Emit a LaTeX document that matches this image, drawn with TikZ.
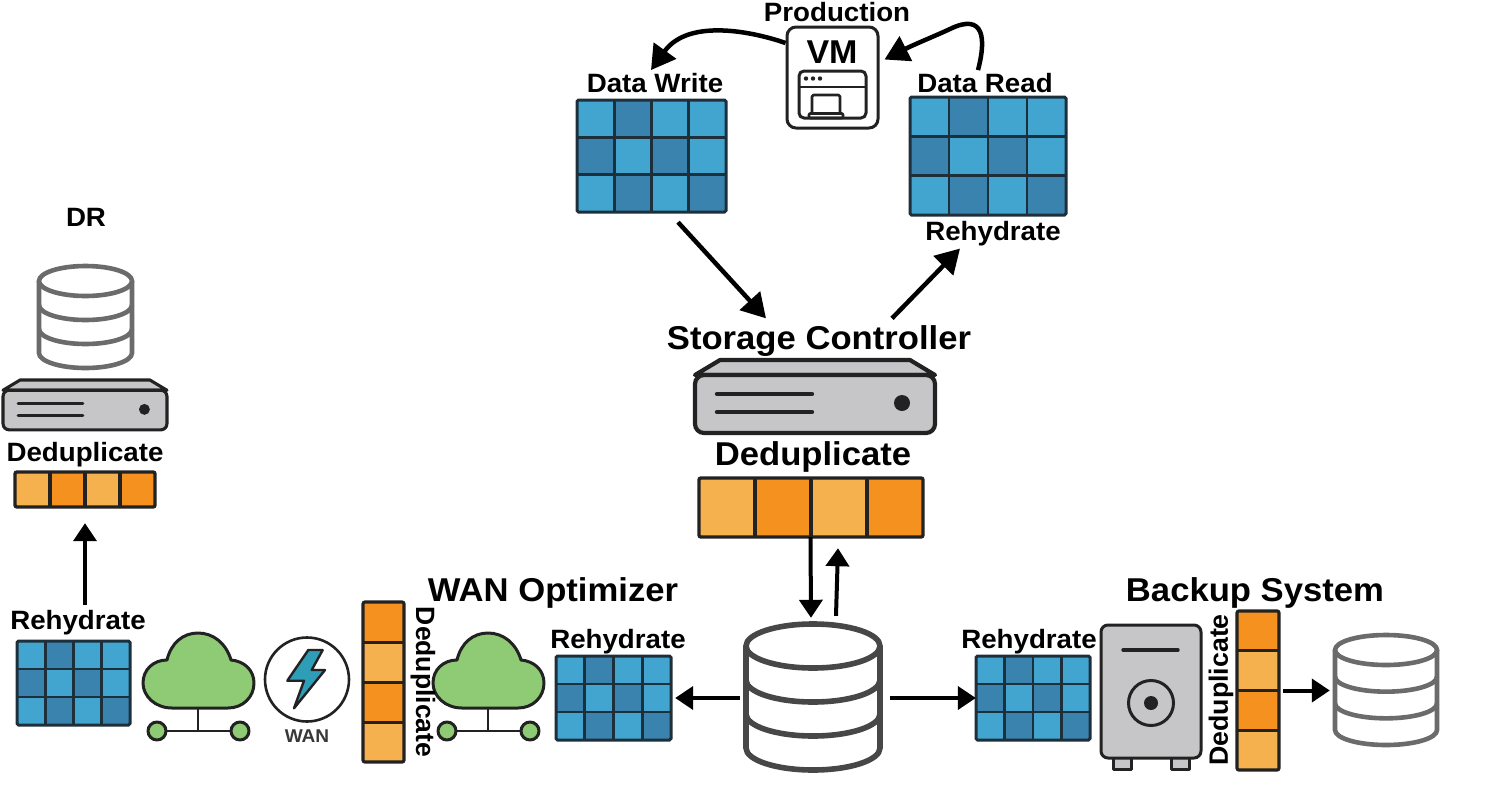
\documentclass[tikz,border=0pt]{standalone}
\usepackage{fontspec}
\setmainfont{Liberation Sans}
\usetikzlibrary{arrows.meta}
\definecolor{cellL}{HTML}{42A5CF}
\definecolor{cellD}{HTML}{3A83AE}
\definecolor{gridline}{HTML}{1E2F3C}
\definecolor{orL}{HTML}{F6B14F}
\definecolor{orD}{HTML}{F5921F}
\definecolor{steel}{HTML}{C6C6C8}
\definecolor{ink}{HTML}{222222}
\definecolor{leaf}{HTML}{8FCA74}
\definecolor{bolt}{HTML}{2E9DB8}
\tikzset{
  arr/.style={line width=4.5pt,-{Triangle[length=24pt,width=27pt]},black},
  arrs/.style={line width=4pt,-{Triangle[length=18pt,width=23pt]},black},
  smalllab/.style={inner sep=0pt,font=\fontsize{26.5}{26.5}\selectfont\bfseries},
  largelab/.style={inner sep=0pt,font=\fontsize{33}{33}\selectfont\bfseries},
  outlined/.style={draw=ink,line width=3pt,line join=round},
  hold/.style={inner sep=0pt,draw=none},
}
% name, x0, y0, width, height
\newcommand\datagrid[5]{%
  \begin{scope}[shift={(#2,#3)},x=#4pt/4,y=-#5pt/3]
    \node[hold,minimum width=#4pt,minimum height=#5pt] (#1) at (2,1.5) {};
    \foreach \c/\r/\k in {0/0/cellL,1/0/cellD,2/0/cellL,3/0/cellL,
                          0/1/cellD,1/1/cellL,2/1/cellD,3/1/cellL,
                          0/2/cellL,1/2/cellD,2/2/cellL,3/2/cellD}
      \path[fill=\k] (\c,\r) rectangle (\c+1,\r+1);
    \draw[gridline,line width=2.8pt] (1,0)--(1,3) (2,0)--(2,3) (3,0)--(3,3) (0,1)--(4,1) (0,2)--(4,2);
    \draw[gridline,line width=3pt,rounded corners=1.5pt] (0,0) rectangle (4,3);
  \end{scope}}
\newcommand\orangeH[5]{%
  \begin{scope}[shift={(#2,#3)},x=#4pt/4,y=-#5pt]
    \node[hold,minimum width=#4pt,minimum height=#5pt] (#1) at (2,.5) {};
    \foreach \c/\k in {0/orL,1/orD,2/orL,3/orD} \path[fill=\k] (\c,0) rectangle (\c+1,1);
    \draw[ink,line width=3.2pt] (1,0)--(1,1) (2,0)--(2,1) (3,0)--(3,1);
    \draw[ink,line width=3.4pt,rounded corners=2pt] (0,0) rectangle (4,1);
  \end{scope}}
\newcommand\orangeV[5]{%
  \begin{scope}[shift={(#2,#3)},x=#4pt,y=-#5pt/4]
    \node[hold,minimum width=#4pt,minimum height=#5pt] (#1) at (.5,2) {};
    \foreach \r/\k in {0/orD,1/orL,2/orD,3/orL} \path[fill=\k] (0,\r) rectangle (1,\r+1);
    \draw[ink,line width=3pt] (0,1)--(1,1) (0,2)--(1,2) (0,3)--(1,3);
    \draw[ink,line width=3.2pt,rounded corners=2pt] (0,0) rectangle (1,4);
  \end{scope}}
% name, cx, top, width, height, ry, colour, line width
\newcommand\dbstack[8]{%
  \begin{scope}[shift={(#2,#3)}]
    \pgfmathsetmacro\hw{#4/2}
    \pgfmathsetmacro\stp{(#5-2*#6)/3}
    \node[hold,minimum width=#4pt,minimum height=#5pt] (#1) at (0,#5/2) {};
    \begin{scope}[draw=#7,line width=#8pt]
      \draw[fill=white] (-\hw,#6) -- (-\hw,#5-#6) arc[x radius=\hw,y radius=-#6,start angle=180,end angle=360] -- (\hw,#6);
      \draw[fill=white] (0,#6) ellipse[x radius=\hw,y radius=#6];
      \draw (-\hw,#6+\stp) arc[x radius=\hw,y radius=-#6,start angle=180,end angle=360];
      \draw (-\hw,#6+2*\stp) arc[x radius=\hw,y radius=-#6,start angle=180,end angle=360];
    \end{scope}
  \end{scope}}
% name, cx, top, scale
\newcommand\serverbox[4]{%
  \begin{scope}[shift={(#2,#3)},x=#4pt,y=-#4pt]
    \node[hold,minimum width=240*#4pt,minimum height=73*#4pt] (#1) at (0,36.5) {};
    \draw[draw=ink,line width=3.4*#4pt+.8pt,fill=steel,line join=round] (-95,0) -- (95,0) -- (120,15) -- (-120,15) -- cycle;
    \draw[draw=ink,line width=3.4*#4pt+.8pt,fill=steel,rounded corners=9*#4pt] (-120,15) rectangle (120,73);
    \draw[ink,line width=4.4*#4pt,line cap=round] (-98,34)--(-3,34) (-98,52)--(-3,52);
    \fill[ink] (87,43) circle[radius=8];
  \end{scope}}
\newcommand\cloudicon[2]{%
  \begin{scope}[shift={(#2,0)}]
    \node[hold,minimum width=111pt,minimum height=75pt] (#1) at (198.5,670.5) {};
    \draw[ink,line width=2.6pt] (198,708) -- (198,731) (157,731) -- (240,731);
    \draw[outlined,fill=leaf] (172,708) .. controls (155,708) and (143,696) .. (143,683)
      .. controls (143,670) and (153,660) .. (167,660)
      .. controls (171,643) and (183,633) .. (198,633)
      .. controls (213,633) and (226,643) .. (231,660)
      .. controls (244,661) and (254,670) .. (254,683)
      .. controls (254,697) and (243,708) .. (228,708) -- cycle;
    \draw[outlined,fill=leaf] (157,731) circle[radius=9] (240,731) circle[radius=9];
  \end{scope}}
\newcommand\smtxt[1]{\scalebox{1.045}[1]{#1}}
\newcommand\lgtxt[1]{\scalebox{1.05}[1]{#1}}
\begin{document}
\begin{tikzpicture}[x=1pt,y=-1pt]
\useasboundingbox (0,0) rectangle (1500,785);
\path[fill=white] (0,0) rectangle (1500,785);

% data grids
\datagrid{dw}{577}{100}{149}{112}
\datagrid{dr}{910}{97}{156}{118}
\datagrid{gl}{17}{641}{113}{84}
\datagrid{gw}{556}{656}{115}{84}
\datagrid{gb}{976}{656}{114}{84}
% deduplicate bars
\orangeH{bc}{699}{478}{224}{59}
\orangeH{bl}{15}{472}{140}{35}
\orangeV{bw}{363}{602}{41}{160}
\orangeV{bb}{1237}{611}{42}{159}
% databases
\dbstack{dbl}{85.5}{266}{93}{102}{15}{black!58}{4.6}
\dbstack{dbc}{813}{624}{134}{146}{22}{black!72}{5.6}
\dbstack{dbb}{1386}{635}{102}{110}{15}{black!58}{4.6}
% servers
\serverbox{sc}{815}{360}{1}
\serverbox{sl}{85}{380}{.683}

% VM
\node[hold,draw=ink,line width=3pt,rounded corners=9pt,minimum width=91pt,minimum height=101pt] (vm) at (832.5,77.5) {};
\node[smalllab,font=\fontsize{33}{33}\selectfont\bfseries] (vmt) at (832,52) {\scalebox{1.03}[1]{VM}};
\draw[outlined,rounded corners=5pt] (799,71) rectangle (866,118);
\draw[ink,line width=2.6pt] (799,87) -- (866,87);
\fill[ink] (806,78.5) circle[radius=2.2] (813,78.5) circle[radius=2.2] (820,78.5) circle[radius=2.2];
\draw[outlined,line width=2.6pt,rounded corners=1.5pt] (812,114) -- (812,95) -- (840,95) -- (840,114);
\draw[outlined,line width=2.6pt,rounded corners=1pt] (809,113.5) rectangle (843,118);

% clouds
\cloudicon{cl}{0}
\cloudicon{cw}{290}

% WAN
\node[hold,draw=ink,line width=2.6pt,circle,minimum size=84pt] (wanc) at (307,679.5) {};
\draw[draw=ink,line width=2.4pt,fill=bolt,line join=round] (308.3,650) -- (322.7,650) -- (311.7,670) -- (325,670) -- (294,708.3) -- (304,680.7) -- (287.3,680.7) -- cycle;
\node[inner sep=0pt,text=black!78,font=\fontsize{18.5}{18.5}\selectfont\bfseries] (wanl) at (307,736) {\scalebox{1.03}[1]{WAN}};

% backup safe
\draw[outlined,fill=steel] (1113,757) rectangle (1131,769.5);
\draw[outlined,fill=steel] (1171,757) rectangle (1189,769.5);
\node[hold,draw=ink,line width=3pt,fill=steel,rounded corners=7pt,minimum width=100pt,minimum height=133pt] (safe) at (1151,691.5) {};
\draw[ink,line width=3.4pt,line cap=round] (1123,650) -- (1178,650);
\draw[ink,line width=3pt] (1151,703) circle[radius=22.5];
\fill[ink] (1151,703) circle[radius=7];

% labels
\node[smalllab] (lprod) at (837,12) {\smtxt{Production}};
\node[smalllab] (lw) at (655,83) {\smtxt{Data Write}};
\node[smalllab] (lr) at (985,83) {\smtxt{Data Read}};
\node[smalllab] (lrh) at (993,234) {\smtxt{Rehydrate}};
\node[smalllab] (ldr) at (86,217) {\smtxt{DR}};
\node[smalllab] (lded) at (85,455) {\smtxt{Deduplicate}};
\node[smalllab] (lrl) at (78,623) {\smtxt{Rehydrate}};
\node[smalllab] (lrw) at (618,642) {\smtxt{Rehydrate}};
\node[smalllab] (lrb) at (1029,642) {\smtxt{Rehydrate}};
\node[smalllab,rotate=-90] (ldw) at (423,682) {Deduplicate};
\node[smalllab,rotate=90] (ldb) at (1221,690) {\scalebox{1.01}[1]{Deduplicate}};
\node[largelab] (lsc) at (819,341) {\lgtxt{Storage Controller}};
\node[largelab] (ldc) at (813,457) {\lgtxt{Deduplicate}};
\node[largelab] (lwan) at (553,593) {\lgtxt{WAN Optimizer}};
\node[largelab] (lbak) at (1255,593) {\lgtxt{Backup System}};

% connectors
\draw[arr] ([yshift=34.5pt]vm.west) .. controls (760,34) and (690,16) .. ([xshift=-4pt,yshift=3pt]lw.north);
\draw[arr] ([xshift=-7pt,yshift=3pt]lr.north) .. controls (986,40) and (985,12) .. (950,29) .. controls (935,36) and (915,44) .. ([xshift=5pt,yshift=18pt]vm.east);
\draw[arr] ([xshift=26.5pt,yshift=-10pt]dw.south) -- ([xshift=-53pt,yshift=7pt]lsc.north);
\draw[arr] ([xshift=73pt,yshift=7pt]lsc.north) -- ([xshift=-33pt,yshift=-2pt]lrh.south);
\draw[arrs] ([xshift=7pt,yshift=5pt]lrl.north) -- ([yshift=-16pt]bl.south);
\draw[arrs] ([xshift=-.5pt]bc.south) -- ([xshift=-2pt,yshift=6pt]dbc.north);
\draw[arrs] ([xshift=23pt,yshift=8pt]dbc.north) -- ([xshift=27pt,yshift=-11pt]bc.south);
\draw[arrs] ([xshift=-6pt]dbc.west |- gw.east) -- ([xshift=4pt]gw.east);
\draw[arrs] ([xshift=10pt]dbc.east |- gb.west) -- (gb.west);
\draw[arrs] ([xshift=4pt]bb.east) -- ([xshift=-5pt]dbb.west |- bb.east);
\end{tikzpicture}
\end{document}
